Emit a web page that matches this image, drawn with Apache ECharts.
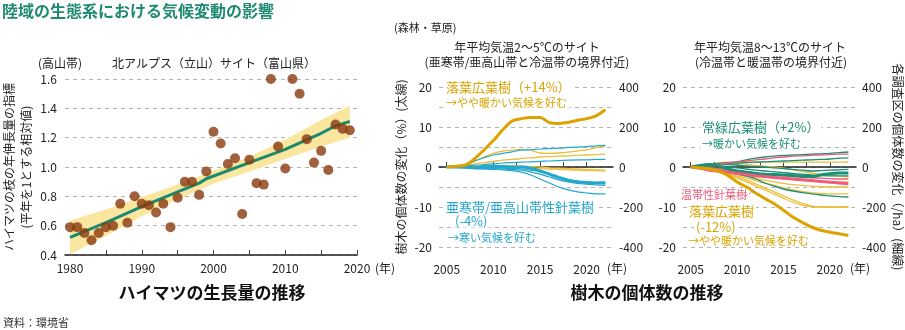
<!DOCTYPE html>
<html><head><meta charset="utf-8">
<script src="https://cdn.jsdelivr.net/npm/echarts@6/dist/echarts.min.js"></script>
<style>html,body{margin:0;padding:0;background:#fff}#c{width:905px;height:330px}</style>
</head><body><div id="c"></div>
<script>
// ---------- Left panel: ハイマツ ----------
const pineYears = [1980,1981,1982,1983,1984,1985,1986,1987,1988,1989,1990,1991,1992,1993,1994,1995,1996,1997,1998,1999,2000,2001,2002,2003,2004,2005,2006,2007,2008,2009,2010,2011,2012,2013,2014,2015,2016,2017,2018,2019];
const pineGrowth = [0.59,0.59,0.55,0.50,0.55,0.59,0.60,0.75,0.62,0.80,0.75,0.74,0.69,0.75,0.59,0.79,0.90,0.90,0.81,0.97,1.24,1.16,1.02,1.06,0.68,1.05,0.89,0.88,1.60,1.14,0.99,1.60,1.50,1.19,1.03,1.11,0.98,1.29,1.26,1.25];
const trendYears = [1980,1985,1990,1995,1998,1999,2005,2010,2015,2017,2019];
const trendValues = [0.52,0.62,0.73,0.83,0.89,0.92,1.03,1.12,1.23,1.28,1.31];
const bandYears = [1980,1985,1990,1995,2000,2005,2010,2015,2019];
const bandLower = [0.405,0.53,0.664,0.78,0.885,0.97,1.054,1.14,1.20];
const bandUpper = [0.635,0.71,0.796,0.88,0.975,1.07,1.186,1.32,1.42];
const pineXLabels = [1980,1990,2000,2010,2020];

// ---------- Tree panels ----------
const treeYears = [2005,2006,2007,2008,2009,2010,2011,2012,2013,2014,2015,2016,2017,2018,2019,2020,2021,2022];
const treeXLabels = [2005,2010,2015,2020];
const pctTicks = [-20,-10,0,10,20];
// middle (2-5°C) thick lines, % (left axis)
const midDeciduousPct = [0,0.2,0.5,2.1,4.3,6.6,9.3,11.5,12.1,12.4,12.4,11.1,10.9,11.1,11.7,12.1,12.8,14.3];
const midConiferPct = [0,0,0,-0.2,0.1,0.2,0.1,0,0,-0.3,-1.0,-1.8,-2.6,-3.3,-3.7,-3.9,-4.0,-3.9];
// middle thin lines, /ha (right axis)
const midYellowA = [0,4,8,30,50,68,80,84,88,84,70,68,70,74,80,86,96,104];
const midYellowB = [0,4,8,16,22,28,34,38,42,46,50,52,54,56,58,60,62,64];
const midYellowC = [0,2,4,4,6,6,6,6,4,2,0,-4,-6,-8,-10,-12,-14,-16];
const midYellowD = [0,2,2,2,2,2,0,-2,-4,-6,-8,-10,-12,-14,-16,-18,-18,-20];
const midBlueA = [0,6,10,30,46,60,68,76,84,86,90,92,94,98,100,102,106,108];
const midBlueB = [0,2,4,8,12,16,20,22,24,26,28,30,32,34,36,36,38,38];
const midBlueC = [0,-2,-4,-6,-8,-8,-10,-12,-16,-24,-36,-50,-64,-74,-82,-86,-90,-92];
const midBlueD = [0,-2,-4,-8,-10,-12,-14,-18,-26,-40,-60,-80,-100,-114,-124,-130,-134,-134];
const midBlueE = [0,-2,-2,-4,-4,-6,-6,-8,-10,-16,-24,-36,-52,-64,-72,-78,-82,-84];
// right (8-13°C) thick lines, %
const rightDeciduousPct = [0,-0.2,-0.5,-1.0,-2.1,-3.75,-5.0,-6.5,-7.9,-9.2,-10.8,-12.5,-13.8,-15.0,-15.8,-16.3,-16.7,-17.1];
const rightEvergreenPct = [0,0.4,0.6,0.2,-0.5,-1.0,-1.3,-1.6,-1.8,-1.9,-2.0,-2.1,-2.3,-2.4,-2.0,-1.7,-1.5,-1.5];
const rightTempConiferPct = [0,-0.3,-0.8,-1.0,-1.3,-1.6,-1.9,-2.2,-2.4,-2.6,-2.8,-3.0,-3.2,-3.4,-3.6,-3.8,-4.0,-4.2];
// right thin lines, /ha
const rTealA = [0,6,12,18,22,26,36,44,50,54,58,60,62,64,66,68,72,75];
const rTealB = [0,4,10,14,18,20,22,24,26,28,30,32,34,36,38,40,44,46];
const rTealC = [0,2,4,2,0,-4,-10,-16,-20,-24,-28,-32,-36,-40,-42,-44,-44,-44];
const rTealD = [0,-4,-10,-16,-24,-34,-46,-60,-80,-96,-110,-120,-128,-134,-140,-144,-148,-150];
const rTealE = [0,2,6,10,12,10,6,2,0,-4,-8,-12,-16,-20,-18,-16,-14,-12];
const rPinkA = [0,4,8,12,20,26,30,36,40,46,50,54,56,58,60,62,64,64];
const rPinkB = [0,-2,-4,-8,-12,-18,-24,-30,-36,-40,-44,-48,-52,-54,-56,-58,-60,-60];
const rYellowA = [0,4,10,16,20,22,24,24,24,24,24,24,24,24,24,24,24,25];
const rYellowB = [0,2,4,20,24,20,14,8,4,0,-6,-14,-22,-30,-36,-42,-46,-50];
const rYellowC = [0,-2,-6,-10,-16,-22,-30,-38,-46,-52,-58,-62,-66,-70,-72,-74,-75,-75];
const rYellowD = [0,-4,-10,-18,-26,-36,-46,-56,-66,-74,-82,-88,-92,-96,-98,-100,-100,-100];
const rYellowE = [0,-6,-14,-22,-32,-44,-56,-68,-80,-92,-104,-114,-122,-128,-132,-134,-134,-134];
const rYellowF = [0,-6,-14,-24,-36,-50,-66,-84,-104,-124,-144,-164,-180,-194,-200,-200,-200,-200];
const rYellowG = [0,-6,-14,-26,-40,-56,-74,-94,-114,-136,-156,-176,-190,-198,-200,-200,-200,-200];

// ---------- build ----------
const FONT = '"Noto Sans CJK JP", "Noto Sans", sans-serif';
const YEL = '#dca300', YEL_T = '#ecbf3c', BLUE = '#22a8cf', TEAL = '#1a8f74', PINK = '#ee5b7c';
const pairs = (xs, ys) => xs.map((x, i) => [x, ys[i]]);
const grid = {type: [4, 4], color: '#b4b4b4', width: 1};

function line(data, xi, yi, color, width, z) {
  return {type: 'line', xAxisIndex: xi, yAxisIndex: yi, data: pairs(treeYears, data),
    symbol: 'none', smooth: 0.3, lineStyle: {color, width}, z, silent: true, animation: false};
}

const series = [];
// confidence band as polygon
series.push({type: 'custom', xAxisIndex: 0, yAxisIndex: 0, data: [[bandYears[0], bandLower[0]]], z: 1, silent: true,
  renderItem: (params, api) => {
    const pts = [];
    bandYears.forEach((y, i) => pts.push(api.coord([y, bandUpper[i]])));
    for (let i = bandYears.length - 1; i >= 0; i--) pts.push(api.coord([bandYears[i], bandLower[i]]));
    return {type: 'polygon', shape: {points: pts}, style: {fill: '#fbe6a0'}};
  }});
series.push({type: 'line', xAxisIndex: 0, yAxisIndex: 0, data: pairs(trendYears, trendValues), symbol: 'none',
  lineStyle: {color: '#1a8a70', width: 3}, z: 3, animation: false});
series.push({type: 'scatter', xAxisIndex: 0, yAxisIndex: 0, data: pairs(pineYears, pineGrowth), symbolSize: 10,
  itemStyle: {color: '#8a380e'}, z: 4, animation: false});

// middle thin
[midYellowA, midYellowB, midYellowC, midYellowD].forEach(d => series.push(line(d, 1, 2, YEL_T, 1.3, 2)));
[midBlueA, midBlueB, midBlueC, midBlueD, midBlueE].forEach(d => series.push(line(d, 1, 2, BLUE, 1.2, 2)));
series.push(line(midConiferPct, 1, 1, BLUE, 3, 3));
series.push(line(midDeciduousPct, 1, 1, YEL, 3, 3));
// right thin
[rYellowA, rYellowB, rYellowC, rYellowD, rYellowE, rYellowF, rYellowG].forEach(d => series.push(line(d, 2, 4, YEL_T, 1.3, 2)));
[rTealA, rTealB, rTealC, rTealD, rTealE].forEach(d => series.push(line(d, 2, 4, TEAL, 1.3, 2)));
[rPinkA, rPinkB].forEach(d => series.push(line(d, 2, 4, PINK, 1.3, 2)));
series.push(line(rightEvergreenPct, 2, 3, TEAL, 3, 3));
series.push(line(rightTempConiferPct, 2, 3, PINK, 3, 3));
series.push(line(rightDeciduousPct, 2, 3, YEL, 3, 3));

const lab = {color: '#222', fontFamily: FONT, fontSize: 12};
const plain = v => String(v);
function treeX(gi) {
  return {type: 'value', gridIndex: gi, min: 2004.17, max: 2022.82, offset: 9,
    axisLine: {show: true, lineStyle: {color: '#222', width: 1.5}},
    axisTick: {show: true, inside: true, length: 5, customValues: [2005,2007.5,2010,2012.5,2015,2017.5,2020], lineStyle: {color: '#444'}},
    axisLabel: Object.assign({customValues: treeXLabels, margin: 7, formatter: plain}, lab), splitLine: {show: false}};
}
function pctY(gi, name) {
  return {type: 'value', gridIndex: gi, min: -20, max: 20, interval: 5, position: 'left',
    axisLine: {show: false}, axisTick: {show: false},
    axisLabel: Object.assign({customValues: pctTicks, margin: 7}, lab),
    splitLine: {show: true, lineStyle: grid},
    name: name || '', nameLocation: 'middle', nameGap: 32, nameRotate: 90,
    nameTextStyle: {fontFamily: FONT, fontSize: 12, color: '#222'}};
}
function haY(gi, name) {
  return {type: 'value', gridIndex: gi, min: -400, max: 400, interval: 200, position: 'right',
    axisLine: {show: false}, axisTick: {show: false}, axisLabel: Object.assign({margin: 6}, lab),
    splitLine: {show: false},
    name: name || '', nameLocation: 'middle', nameGap: 36, nameRotate: -90,
    nameTextStyle: {fontFamily: FONT, fontSize: 12, color: '#222'}};
}

function txt(text, x, y, size, color, opts) {
  return {type: 'text', x, y, z: 100, style: Object.assign({text, fill: color || '#222',
    font: (opts && opts.weight ? opts.weight + ' ' : '') + size + 'px ' + FONT,
    textAlign: (opts && opts.align) || 'left', textVerticalAlign: 'middle'},
    opts && opts.bg ? {backgroundColor: '#fff', padding: [0, 2]} : {})};
}

const option = {
  animation: false,
  grid: [
    {left: 62, top: 79, width: 295, height: 176},
    {left: 439, top: 87, width: 174, height: 160},
    {left: 683, top: 87, width: 174, height: 160}
  ],
  xAxis: [
    {type: 'value', gridIndex: 0, min: 1979.3, max: 2020,
      axisLine: {show: true, lineStyle: {color: '#222', width: 1.5}},
      axisTick: {show: true, inside: true, length: 5, customValues: [1980,1985,1990,1995,2000,2005,2010,2015,2020], lineStyle: {color: '#444'}},
      axisLabel: Object.assign({customValues: pineXLabels, margin: 7, formatter: plain}, lab), splitLine: {show: false}},
    treeX(1), treeX(2)
  ],
  yAxis: [
    {type: 'value', gridIndex: 0, min: 0.4, max: 1.6, interval: 0.2,
      axisLine: {show: false}, axisTick: {show: false},
      axisLabel: Object.assign({margin: 8, formatter: v => v.toFixed(1)}, lab),
      splitLine: {show: true, lineStyle: grid},
      name: 'ハイマツの枝の年伸長量の指標\n(平年を1とする相対値)', nameLocation: 'middle', nameGap: 30, nameRotate: 90,
      nameTextStyle: {fontFamily: FONT, fontSize: 12, color: '#222', lineHeight: 17}},
    pctY(1, '樹木の個体数の変化（%）(太線)'), haY(1),
    pctY(2), haY(2, '各調査区の個体数の変化（/ha）(細線)')
  ],
  series,
  graphic: [
    txt('陸域の生態系における気候変動の影響', 2, 11, 16, '#1f8a72', {weight: 'bold'}),
    txt('(高山帯)', 38, 63, 12),
    txt('北アルプス（立山）サイト（富山県）', 112, 63, 12),
    txt('(年)', 375, 268, 12),
    txt('ハイマツの生長量の推移', 212, 293, 17, '#111', {align: 'center', weight: 'bold'}),
    txt('資料：環境省', 3, 323, 11, '#333'),
    txt('(森林・草原)', 394, 28, 11),
    txt('年平均気温2〜5℃のサイト', 527, 47, 12, '#222', {align: 'center'}),
    txt('(亜寒帯/亜高山帯と冷温帯の境界付近)', 527, 62, 12, '#222', {align: 'center'}),
    txt('年平均気温8〜13℃のサイト', 770, 47, 12, '#222', {align: 'center'}),
    txt('(冷温帯と暖温帯の境界付近)', 771, 62, 12, '#222', {align: 'center'}),
    txt('(年)', 607, 268, 12),
    txt('(年)', 850, 268, 12),
    txt('樹木の個体数の推移', 647, 293, 17, '#111', {align: 'center', weight: 'bold'}),
    txt('落葉広葉樹（+14%）', 444, 87, 13, YEL, {bg: true}),
    txt('→やや暖かい気候を好む', 444, 103, 11, YEL, {bg: true}),
    txt('亜寒帯/亜高山帯性針葉樹', 444, 207, 13, BLUE, {bg: true}),
    txt('(-4%)', 453, 221, 13, BLUE, {bg: true}),
    txt('→寒い気候を好む', 446, 238, 11, BLUE, {bg: true}),
    txt('常緑広葉樹（+2%）', 700, 127, 13, TEAL, {bg: true}),
    txt('→暖かい気候を好む', 700, 144, 11, TEAL, {bg: true}),
    txt('温帯性針葉樹', 679, 195, 11, PINK, {bg: true}),
    {type: 'line', z: 100, shape: {x1: 746, y1: 196, x2: 756, y2: 189}, style: {stroke: PINK, lineWidth: 1, lineDash: [2, 2]}},
    txt('落葉広葉樹', 687, 211, 13, YEL, {bg: true}),
    txt('(-12%)', 694, 227, 13, YEL, {bg: true}),
    txt('→やや暖かい気候を好む', 686, 241, 11, YEL, {bg: true})
  ]
};
const chart = echarts.init(document.getElementById('c'), null, {renderer: 'canvas'});
chart.setOption(option);
</script></body></html>
